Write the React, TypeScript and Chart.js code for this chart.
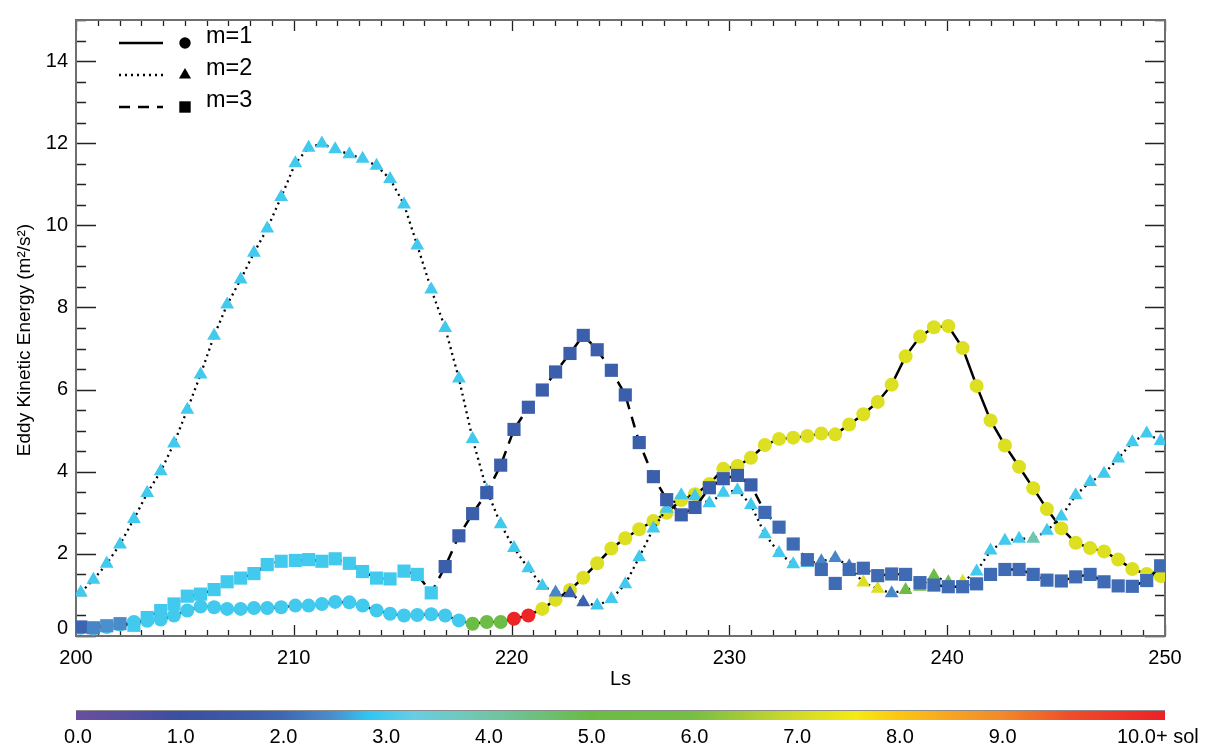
import React, { useEffect, useRef } from "react";
import { Chart, registerables } from "chart.js";

Chart.register(...registerables);

const FONT = "'Liberation Sans', Arial, Helvetica, sans-serif";

// Solar longitude (deg) of each daily sample
const LS = [
  200.22, 200.8, 201.41, 202.02, 202.66, 203.27, 203.89, 204.5, 205.11, 205.72,
  206.34, 206.94, 207.56, 208.17, 208.78, 209.42, 210.07, 210.68, 211.29, 211.9,
  212.55, 213.16, 213.8, 214.42, 215.06, 215.67, 216.31, 216.95, 217.58, 218.21,
  218.86, 219.5, 220.11, 220.77, 221.41, 222.02, 222.68, 223.29, 223.93, 224.58,
  225.22, 225.86, 226.51, 227.12, 227.79, 228.42, 229.08, 229.72, 230.37, 230.99,
  231.63, 232.28, 232.93, 233.58, 234.22, 234.86, 235.5, 236.15, 236.81, 237.45,
  238.09, 238.75, 239.39, 240.05, 240.71, 241.35, 241.99, 242.65, 243.3, 243.95,
  244.58, 245.24, 245.9, 246.56, 247.2, 247.85, 248.5, 249.16, 249.8,
];

// Eddy kinetic energy (m2/s2) for zonal wavenumbers 1, 2, 3
const M1 = [
  0.2, 0.18, 0.22, 0.28, 0.34, 0.37, 0.4, 0.5, 0.62, 0.72,
  0.7, 0.66, 0.66, 0.68, 0.68, 0.7, 0.74, 0.74, 0.78, 0.83,
  0.82, 0.74, 0.62, 0.54, 0.5, 0.51, 0.53, 0.5, 0.38, 0.3,
  0.34, 0.34, 0.42, 0.5, 0.66, 0.88, 1.12, 1.42, 1.77, 2.13,
  2.38, 2.6, 2.8, 3.0, 3.31, 3.45, 3.7, 4.07, 4.14, 4.34,
  4.65, 4.8, 4.83, 4.87, 4.93, 4.91, 5.15, 5.4, 5.7, 6.12,
  6.81, 7.29, 7.52, 7.55, 7.01, 6.09, 5.25, 4.64, 4.12, 3.6,
  3.09, 2.62, 2.27, 2.14, 2.06, 1.86, 1.63, 1.51, 1.46,
];
const M2 = [
  1.06, 1.37, 1.76, 2.23, 2.85, 3.48, 4.01, 4.69, 5.51, 6.37,
  7.31, 8.07, 8.68, 9.33, 9.92, 10.69, 11.51, 11.89, 11.99, 11.85,
  11.73, 11.62, 11.45, 11.13, 10.51, 9.51, 8.44, 7.5, 6.27, 4.8,
  3.55, 2.72, 2.14, 1.65, 1.22, 1.06, 1.04, 0.82, 0.74, 0.9,
  1.26, 1.92, 2.62, 3.1, 3.43, 3.4, 3.23, 3.49, 3.55, 3.19,
  2.48, 2.02, 1.75, 1.78, 1.82, 1.9, 1.7, 1.3, 1.15, 1.04,
  1.12, 1.2, 1.46, 1.31, 1.32, 1.57, 2.08, 2.32, 2.37, 2.37,
  2.56, 2.91, 3.43, 3.75, 3.95, 4.32, 4.72, 4.93, 4.75,
];
const M3 = [
  0.22, 0.2, 0.25, 0.3, 0.26, 0.45, 0.62, 0.78, 0.97, 1.02,
  1.13, 1.32, 1.41, 1.52, 1.74, 1.82, 1.84, 1.86, 1.82, 1.88,
  1.77, 1.57, 1.41, 1.39, 1.58, 1.5, 1.05, 1.69, 2.44, 2.98,
  3.49, 4.16, 5.03, 5.57, 5.99, 6.43, 6.88, 7.32, 6.97, 6.47,
  5.87, 4.71, 3.88, 3.32, 2.95, 3.13, 3.61, 3.83, 3.91, 3.68,
  3.01, 2.65, 2.24, 1.86, 1.62, 1.28, 1.62, 1.65, 1.47, 1.51,
  1.5, 1.3, 1.24, 1.2, 1.2, 1.27, 1.5, 1.62, 1.62, 1.5,
  1.36, 1.34, 1.44, 1.5, 1.32, 1.22, 1.21, 1.35, 1.71,
];

// Dominant period (sol) of each sample, used for the marker colour
const M1_SOL = [
  3, 3, 3, 3, 3, 3, 3, 3, 3, 3,
  3, 3, 3, 3, 3, 3, 3, 3, 3, 3,
  3, 3, 3, 3, 3, 3, 3, 3, 3, 5.2,
  5.2, 5.2, 10.5, 10.5, 7.2, 7.2, 7.2, 7.2, 7.2, 7.2,
  7.2, 7.2, 7.2, 7.2, 7.2, 7.2, 7.2, 7.2, 7.2, 7.2,
  7.2, 7.2, 7.2, 7.2, 7.2, 7.2, 7.2, 7.2, 7.2, 7.2,
  7.2, 7.2, 7.2, 7.2, 7.2, 7.2, 7.2, 7.2, 7.2, 7.2,
  7.2, 7.2, 7.2, 7.2, 7.2, 7.2, 7.2, 7.2, 7.2,
];
const M2_SOL = [
  3, 3, 3, 3, 3, 3, 3, 3, 3, 3,
  3, 3, 3, 3, 3, 3, 3, 3, 3, 3,
  3, 3, 3, 3, 3, 3, 3, 3, 3, 3,
  3, 3, 3, 3, 3, 2.4, 1.8, 1.8, 3, 3,
  3, 3, 3, 3, 3, 3, 3, 3, 3, 3,
  3, 3, 3, 3, 2.4, 2.4, 2.2, 7.2, 7.2, 2.4,
  5.3, 5.3, 5.3, 5.3, 7.2, 3, 3, 3, 3, 3.9,
  3, 3, 3, 3, 3, 3, 3, 3, 3,
];
const M3_SOL = [
  1.9, 2.4, 2.5, 2.45, 3, 3, 3, 3, 3, 3,
  3, 3, 3, 3, 3, 3, 3, 3, 3, 3,
  3, 3, 3, 3, 3, 3, 3, 1.75, 1.75, 1.75,
  1.75, 1.75, 1.75, 1.75, 1.75, 1.75, 1.75, 1.75, 1.75, 1.75,
  1.75, 1.75, 1.75, 1.75, 1.75, 1.75, 1.75, 1.75, 1.75, 1.75,
  2.05, 2.05, 2.05, 2.05, 2.05, 2.05, 2.05, 2.05, 2.05, 2.05,
  2.05, 2.05, 2.05, 2.05, 2.05, 2.05, 2.05, 2.05, 2.05, 2.05,
  2.05, 2.05, 2.05, 2.05, 2.05, 2.05, 2.05, 2.05, 2.05,
];

// Colour scale (sol -> colour)
const CMAP_VALUES = [0, 0.5, 1.0, 1.6, 2.0, 2.5, 2.85, 3.3, 3.8, 4.3, 5.0, 6.0, 6.5, 7.0, 7.6, 8.0, 8.5, 9.0, 9.7, 10.6];
const CMAP_COLORS = [
  "#6B4E9E", "#554E9F", "#3B4FA0", "#3B5AA8", "#3E67B2", "#4B8FCC", "#2FC6F3", "#69CEE3",
  "#70C8B8", "#6EC290", "#6ABB45", "#76BE44", "#A4CB37", "#D0DA29", "#F6EA12", "#FCC712",
  "#F7A521", "#F38A28", "#EF4C2A", "#ED2027",
];
const CBAR_MAX = 10.6;
const CBAR_TICKS = [0, 1, 2, 3, 4, 5, 6, 7, 8, 9];
const CBAR_LABELS = ["0.0", "1.0", "2.0", "3.0", "4.0", "5.0", "6.0", "7.0", "8.0", "9.0"];
const CBAR_LAST_LABEL = "10.0+ sol";

const SERIES_LABELS = ["m=1", "m=2", "m=3"];
const X_TITLE = "Ls";
const Y_TITLE = "Eddy Kinetic Energy (m\u00B2/s\u00B2)";

function hexRgb(h: string): number[] {
  const n = parseInt(h.slice(1), 16);
  return [(n >> 16) & 255, (n >> 8) & 255, n & 255];
}

function colorFor(v: number): string {
  if (v <= CMAP_VALUES[0]) return CMAP_COLORS[0];
  for (let i = 1; i < CMAP_VALUES.length; i++) {
    if (v <= CMAP_VALUES[i]) {
      const t = (v - CMAP_VALUES[i - 1]) / (CMAP_VALUES[i] - CMAP_VALUES[i - 1]);
      const a = hexRgb(CMAP_COLORS[i - 1]);
      const b = hexRgb(CMAP_COLORS[i]);
      const c = a.map((ch, k) => Math.round(ch + (b[k] - ch) * t));
      return `rgb(${c[0]},${c[1]},${c[2]})`;
    }
  }
  return CMAP_COLORS[CMAP_COLORS.length - 1];
}

const points = (ys: number[]) => LS.map((x, i) => ({ x, y: ys[i] }));

const DASH_M2 = [2, 4];
const DASH_M3 = [11, 8];
const TICK_FONT = 20;

// small filled legend symbols
function legendSymbol(ctx: CanvasRenderingContext2D, kind: string, cx: number, cy: number) {
  ctx.beginPath();
  if (kind === "circle") {
    ctx.arc(cx, cy, 5.7, 0, Math.PI * 2);
  } else if (kind === "triangle") {
    const r = 7;
    ctx.moveTo(cx, cy - r);
    ctx.lineTo(cx + r * 0.866, cy + r * 0.5);
    ctx.lineTo(cx - r * 0.866, cy + r * 0.5);
    ctx.closePath();
  } else {
    ctx.rect(cx - 5.7, cy - 5.7, 11.4, 11.4);
  }
  ctx.fill();
}

const decorPlugin = {
  id: "decor",
  beforeDatasetsDraw(chart: any) {
    const { ctx, chartArea: a, scales } = chart;
    const xs = scales.x;
    const ys = scales.y;
    ctx.save();
    // inward ticks on all four sides
    ctx.strokeStyle = "#222";
    ctx.lineWidth = 1.3;
    ctx.beginPath();
    for (let v = 200; v <= 250; v++) {
      const px = Math.round(xs.getPixelForValue(v)) + 0.5;
      const len = v % 10 === 0 ? 11 : 6;
      ctx.moveTo(px, a.bottom);
      ctx.lineTo(px, a.bottom - len);
      ctx.moveTo(px, a.top);
      ctx.lineTo(px, a.top + len);
    }
    for (let v = 0; v <= 15; v += 0.5) {
      const py = Math.round(ys.getPixelForValue(v)) + 0.5;
      const len = v % 2 === 0 ? 20 : 10;
      ctx.moveTo(a.left, py);
      ctx.lineTo(a.left + len, py);
      ctx.moveTo(a.right, py);
      ctx.lineTo(a.right - len, py);
    }
    ctx.stroke();
    // frame
    ctx.strokeStyle = "#6f6f6f";
    ctx.lineWidth = 2;
    ctx.strokeRect(a.left, a.top, a.right - a.left, a.bottom - a.top);
    ctx.restore();
  },
  afterDraw(chart: any) {
    const { ctx, chartArea: a } = chart;
    ctx.save();
    ctx.fillStyle = "#000";

    // zero label of the y axis sits a little above the axis corner
    ctx.font = `${TICK_FONT}px ${FONT}`;
    ctx.textAlign = "right";
    ctx.textBaseline = "middle";
    ctx.fillText("0", a.left - 8, 628);

    // axis titles
    ctx.font = `20px ${FONT}`;
    ctx.textAlign = "center";
    ctx.fillText(X_TITLE, (a.left + a.right) / 2, 679);
    ctx.save();
    ctx.translate(25, 340);
    ctx.rotate(-Math.PI / 2);
    ctx.font = `19px ${FONT}`;
    ctx.fillText(Y_TITLE, 0, 0);
    ctx.restore();

    // legend
    const rows = [43, 75, 107];
    const dashes = [[], DASH_M2, DASH_M3];
    const kinds = ["circle", "triangle", "rect"];
    rows.forEach((ry, i) => {
      ctx.save();
      ctx.strokeStyle = "#000";
      ctx.lineWidth = 2.5;
      ctx.setLineDash(dashes[i]);
      ctx.beginPath();
      ctx.moveTo(119, ry);
      ctx.lineTo(163, ry);
      ctx.stroke();
      ctx.restore();
      ctx.fillStyle = "#000";
      legendSymbol(ctx, kinds[i], 185, ry);
      ctx.font = `23.5px ${FONT}`;
      ctx.textAlign = "left";
      ctx.textBaseline = "middle";
      ctx.fillText(SERIES_LABELS[i], 206, ry - 6);
    });

    // colour bar
    const x0 = a.left;
    const x1 = a.right;
    const barTop = 711;
    const barH = 9;
    const grad = ctx.createLinearGradient(x0, 0, x1, 0);
    CMAP_VALUES.forEach((v, i) => grad.addColorStop(Math.min(1, v / CBAR_MAX), CMAP_COLORS[i]));
    ctx.fillStyle = grad;
    ctx.fillRect(x0, barTop, x1 - x0, barH);
    ctx.strokeStyle = "#8a8a8a";
    ctx.lineWidth = 1.2;
    ctx.beginPath();
    ctx.moveTo(x0, barTop - 0.5);
    ctx.lineTo(x1, barTop - 0.5);
    ctx.stroke();

    ctx.fillStyle = "#000";
    ctx.font = `${TICK_FONT}px ${FONT}`;
    ctx.textAlign = "center";
    ctx.textBaseline = "middle";
    CBAR_TICKS.forEach((v, i) => {
      ctx.fillText(CBAR_LABELS[i], x0 + (v / CBAR_MAX) * (x1 - x0) + 2, 737);
    });
    ctx.textAlign = "left";
    ctx.fillText(CBAR_LAST_LABEL, 1117, 737);
    ctx.restore();
  },
};

export default function App() {
  const ref = useRef<HTMLCanvasElement | null>(null);

  useEffect(() => {
    const canvas = ref.current;
    if (!canvas) return;
    const chart = new Chart(canvas, {
      type: "line",
      data: {
        datasets: [
          {
            label: SERIES_LABELS[2],
            data: points(M3),
            borderColor: "#000",
            borderWidth: 2.5,
            borderDash: DASH_M3,
            pointStyle: "rect",
            pointRadius: 9.3,
            pointBorderWidth: 0,
            pointBackgroundColor: M3_SOL.map(colorFor),
            tension: 0,
            order: 0,
          },
          {
            label: SERIES_LABELS[1],
            data: points(M2),
            borderColor: "#000",
            borderWidth: 2.3,
            borderDash: DASH_M2,
            pointStyle: "triangle",
            pointRadius: 8,
            pointBorderWidth: 0,
            pointBackgroundColor: M2_SOL.map(colorFor),
            tension: 0,
            order: 1,
          },
          {
            label: SERIES_LABELS[0],
            data: points(M1),
            borderColor: "#000",
            borderWidth: 2.5,
            pointStyle: "circle",
            pointRadius: 7,
            pointBorderWidth: 0,
            pointBackgroundColor: M1_SOL.map(colorFor),
            tension: 0,
            order: 2,
          },
        ],
      },
      options: {
        responsive: false,
        animation: false,
        devicePixelRatio: 1,
        layout: { padding: { top: 12, right: 43, left: 0, bottom: 0 } },
        plugins: { legend: { display: false }, tooltip: { enabled: false } },
        scales: {
          x: {
            type: "linear",
            min: 200,
            max: 250,
            grid: { display: false, drawTicks: false },
            border: { display: false },
            ticks: { stepSize: 10, padding: 10, color: "#000", font: { family: FONT, size: TICK_FONT } },
            afterFit: (s: any) => {
              s.height = 110;
            },
          },
          y: {
            min: 0,
            max: 15,
            grid: { display: false, drawTicks: false },
            border: { display: false },
            ticks: {
              stepSize: 2,
              includeBounds: false,
              padding: 8,
              color: "#000",
              font: { family: FONT, size: TICK_FONT },
              callback: (v: any) => (v === 0 ? "" : String(v)),
            },
            afterFit: (s: any) => {
              s.width = 76;
            },
          },
        },
      },
      plugins: [decorPlugin],
    });
    return () => chart.destroy();
  }, []);

  return (
    <div style={{ position: "absolute", left: 0, top: 0, width: 1208, height: 746, background: "#fff" }}>
      <canvas ref={ref} width={1208} height={746} style={{ display: "block" }} />
    </div>
  );
}
